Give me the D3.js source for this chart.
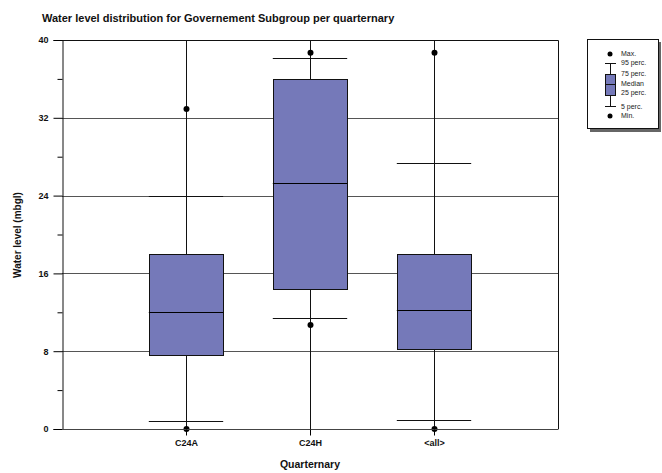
<!DOCTYPE html>
<html><head><meta charset="utf-8">
<script src="https://cdn.jsdelivr.net/npm/d3@7"></script>
<style>body{margin:0;background:#fff;font-family:"Liberation Sans",Arial,sans-serif;}</style>
</head><body>
<svg id="chart" width="662" height="473"></svg>
<script>
const categories = ["C24A", "C24H", "<all>"];
const minVals = [0, 10.7, 0];
const p5Vals = [0.8, 11.4, 0.95];
const q1Vals = [7.6, 14.4, 8.2];
const medianVals = [12.0, 25.3, 12.2];
const q3Vals = [18.0, 36.0, 18.0];
const p95Vals = [24.0, 38.1, 27.4];
const maxVals = [32.9, 38.7, 38.7];
const yTicks = [0, 8, 16, 24, 32, 40];
const yMinorTicks = [4, 12, 20, 28, 36];
const legendLabels = ["Max.", "95 perc.", "75 perc.", "Median", "25 perc.", "5 perc.", "Min."];

const svg = d3.select("#chart");
const m = {l: 62, r: 558, t: 40, b: 429};
const boxColor = "#7579b9";
const x = d3.scalePoint().domain(categories).range([m.l, m.r]).padding(1);
const y = d3.scaleLinear().domain([0, 40]).range([m.b, m.t]);
const bw = x.step() * 0.6;

const data = categories.map((c, i) => ({c, min: minVals[i], p5: p5Vals[i], q1: q1Vals[i], med: medianVals[i], q3: q3Vals[i], p95: p95Vals[i], max: maxVals[i]}));

// gridlines
svg.append("g").selectAll("line").data(yTicks.filter(d => d > 0 && d < 40)).join("line")
  .attr("x1", m.l).attr("x2", m.r).attr("y1", d => Math.round(y(d)) + 0.5).attr("y2", d => Math.round(y(d)) + 0.5)
  .attr("stroke", "#555").attr("stroke-width", 1);
// vertical lines at categories
svg.append("g").selectAll("line").data(categories).join("line")
  .attr("x1", d => Math.round(x(d)) + 0.5).attr("x2", d => Math.round(x(d)) + 0.5)
  .attr("y1", m.t).attr("y2", m.b).attr("stroke", "#111");

// frame top/right
svg.append("path").attr("d", `M${m.l},${m.t + 0.5}H${m.r + 0.5}V${m.b}`).attr("fill", "none").attr("stroke", "#111");

// caps
const capG = svg.append("g");
data.forEach(d => {
  [d.p5, d.p95].forEach(v => {
    capG.append("line").attr("x1", x(d.c) - bw / 2).attr("x2", x(d.c) + bw / 2)
      .attr("y1", Math.round(y(v)) + 0.5).attr("y2", Math.round(y(v)) + 0.5).attr("stroke", "#111");
  });
});
// boxes
const bg = svg.append("g");
data.forEach(d => {
  bg.append("rect").attr("x", Math.round(x(d.c) - bw / 2) + 0.5).attr("width", Math.round(bw))
    .attr("y", Math.round(y(d.q3)) + 0.5).attr("height", Math.round(y(d.q1) - y(d.q3)))
    .attr("fill", boxColor).attr("stroke", "#111");
  bg.append("line").attr("x1", x(d.c) - bw / 2).attr("x2", x(d.c) + bw / 2)
    .attr("y1", Math.round(y(d.med)) + 0.5).attr("y2", Math.round(y(d.med)) + 0.5).attr("stroke", "#000");
  [d.min, d.max].forEach(v => {
    bg.append("circle").attr("cx", x(d.c) + 0.5).attr("cy", y(v)).attr("r", 3).attr("fill", "#000");
  });
});

// y axis
const yAxis = d3.axisLeft(y).tickValues(yTicks).tickSize(9).tickPadding(5).tickFormat(d3.format("d"));
const yg = svg.append("g").attr("transform", `translate(${m.l + 0.5},0)`).call(yAxis);
yg.select(".domain").attr("stroke", "#111");
yg.selectAll("text").attr("font-size", 9).attr("font-weight", "bold").attr("font-family", "Liberation Sans, Arial, sans-serif").attr("fill", "#111");
svg.append("g").attr("transform", `translate(${m.l + 0.5},0)`)
  .call(d3.axisLeft(y).tickValues(yMinorTicks).tickSize(5).tickFormat(""))
  .select(".domain").remove();

// x axis
const xg = svg.append("g").attr("transform", `translate(0,${m.b + 0.5})`)
  .call(d3.axisBottom(x).tickSize(6).tickPadding(4).tickSizeOuter(0));
xg.select(".domain").attr("stroke", "#444").attr("d", `M${m.l},0H${m.r + 0.5}`);
xg.selectAll("text").attr("font-size", 9).attr("font-weight", "bold").attr("font-family", "Liberation Sans, Arial, sans-serif").attr("fill", "#111");

// titles
svg.append("text").attr("x", 42).attr("y", 22).attr("font-size", 11).attr("font-weight", "bold").attr("fill", "#111")
  .text("Water level distribution for Governement Subgroup per quarternary");
svg.append("text").attr("x", 310).attr("y", 468).attr("text-anchor", "middle").attr("font-size", 10.5).attr("font-weight", "bold").attr("fill", "#111")
  .text("Quarternary");
svg.append("text").attr("transform", "translate(21,235) rotate(-90)").attr("text-anchor", "middle").attr("font-size", 10).attr("font-weight", "bold").attr("fill", "#111")
  .text("Water level (mbgl)");

// legend
const lg = svg.append("g");
lg.append("rect").attr("x", 590).attr("y", 42).attr("width", 71).attr("height", 90).attr("fill", "#666");
lg.append("rect").attr("x", 587.5).attr("y", 39.5).attr("width", 71).attr("height", 89).attr("fill", "#fff").attr("stroke", "#111");
const lx = 610;
lg.append("circle").attr("cx", lx).attr("cy", 54).attr("r", 2.5).attr("fill", "#000");
lg.append("circle").attr("cx", lx).attr("cy", 116).attr("r", 2.5).attr("fill", "#000");
lg.append("line").attr("x1", lx + 0.5).attr("x2", lx + 0.5).attr("y1", 63).attr("y2", 106).attr("stroke", "#111");
lg.append("line").attr("x1", lx - 5).attr("x2", lx + 6).attr("y1", 63.5).attr("y2", 63.5).attr("stroke", "#111");
lg.append("line").attr("x1", lx - 5).attr("x2", lx + 6).attr("y1", 106.5).attr("y2", 106.5).attr("stroke", "#111");
lg.append("rect").attr("x", lx - 4.5).attr("y", 74.5).attr("width", 10).attr("height", 21).attr("fill", boxColor).attr("stroke", "#111");
lg.append("line").attr("x1", lx - 4.5).attr("x2", lx + 5.5).attr("y1", 84.5).attr("y2", 84.5).attr("stroke", "#111");
const ly = [54, 63, 74, 83.5, 93, 106.5, 116];
lg.selectAll("text").data(legendLabels).join("text")
  .attr("x", 621).attr("y", (d, i) => ly[i]).attr("dy", "0.35em").attr("font-size", 7).attr("fill", "#222").text(d => d);
</script>
</body></html>
